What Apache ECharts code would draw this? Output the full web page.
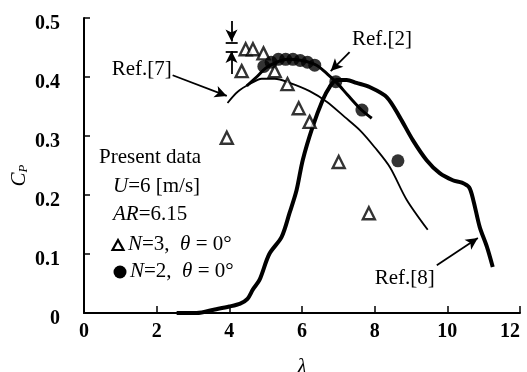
<!DOCTYPE html>
<html><head><meta charset="utf-8">
<script src="https://cdn.jsdelivr.net/npm/echarts@6/dist/echarts.min.js"></script>
<style>html,body{margin:0;padding:0;background:#fff}#c{width:527px;height:372px}</style>
</head><body><div id="c"></div>
<script>
// ---- data ----
const xTickLabels = ['0','2','4','6','8','10','12'];
const yTickLabels = ['0','0.1','0.2','0.3','0.4','0.5'];

// Present data, N=3 (open triangles)
const n3Lambda = [3.93, 4.34, 4.45, 4.65, 4.94, 5.25, 5.60, 5.91, 6.21, 7.01, 7.84];
const n3Cp     = [0.297, 0.410, 0.447, 0.447, 0.440, 0.410, 0.388, 0.347, 0.324, 0.256, 0.169];

// Present data, N=2 (filled circles)
const n2Lambda = [4.95, 5.15, 5.35, 5.55, 5.75, 5.95, 6.15, 6.35, 6.93, 7.65, 8.64];
const n2Cp     = [0.418, 0.425, 0.430, 0.430, 0.430, 0.428, 0.425, 0.420, 0.392, 0.344, 0.258];

// Ref.[7]
const ref7Lambda = [3.95, 4.23, 4.56, 4.89, 5.25, 5.66, 6.21, 6.68, 7.18, 7.59, 8.00, 8.42, 8.88, 9.46];
const ref7Cp     = [0.356, 0.375, 0.388, 0.397, 0.397, 0.390, 0.376, 0.358, 0.332, 0.310, 0.281, 0.247, 0.192, 0.141];

// Ref.[2]
const ref2Lambda = [4.48, 4.75, 5.00, 5.30, 5.60, 6.00, 6.40, 6.70, 6.96, 7.25, 7.64, 7.92];
const ref2Cp     = [0.385, 0.400, 0.415, 0.425, 0.430, 0.428, 0.420, 0.405, 0.390, 0.370, 0.344, 0.330];

// Ref.[8]
const ref8Lambda = [2.55, 3.10, 3.60, 4.00, 4.30, 4.50, 4.65, 4.83, 5.10, 5.44, 5.66, 5.85, 6.02, 6.29, 6.57, 6.76, 6.95, 7.23, 7.50, 7.86, 8.33, 8.69, 9.05, 9.43, 9.79, 10.15, 10.40, 10.60, 10.72, 10.89, 11.09, 11.25];
const ref8Cp     = [0.000, 0.000, 0.006, 0.011, 0.016, 0.024, 0.040, 0.056, 0.100, 0.129, 0.170, 0.208, 0.259, 0.315, 0.361, 0.383, 0.395, 0.395, 0.390, 0.383, 0.366, 0.332, 0.293, 0.259, 0.237, 0.225, 0.221, 0.213, 0.190, 0.146, 0.112, 0.078];

const zip = (a, b) => a.map((v, i) => [v, b[i]]);
const F = 'Liberation Serif, Times New Roman, serif';

const chart = echarts.init(document.getElementById('c'));

const arrowLine = (from, to) => [{coord: from, symbol: 'none'}, {coord: to, symbol: 'arrow', symbolSize: [9, 12]}];
const plainLine = (from, to) => [{coord: from, symbol: 'none'}, {coord: to, symbol: 'none'}];

const annotTxt = (coord, text) => ({coord, value: text, symbol: 'circle', symbolSize: 0,
  label: {show: true, position: 'inside', formatter: text, fontFamily: F, fontSize: 21, color: '#000'}});

const rich = {i: {fontFamily: F, fontStyle: 'italic', fontSize: 21}};

chart.setOption({
  animation: false,
  backgroundColor: '#fff',
  grid: {left: 84, right: 7, top: 18, bottom: 59, outerBoundsMode: 'none', containLabel: false},
  xAxis: {
    type: 'value', min: 0, max: 12, interval: 2,
    name: 'λ', nameLocation: 'middle', nameGap: 44,
    nameTextStyle: {fontFamily: F, fontStyle: 'italic', fontSize: 21, color: '#000'},
    axisLine: {show: true, lineStyle: {color: '#000', width: 2}},
    axisTick: {show: true, inside: true, length: 7, lineStyle: {color: '#000', width: 1.5}},
    axisLabel: {fontFamily: F, fontWeight: 'bold', fontSize: 20, color: '#000', margin: 9,
      alignMaxLabel: 'right',
      formatter: (v) => xTickLabels[Math.round(v / 2)]},
    splitLine: {show: false}
  },
  yAxis: {
    type: 'value', min: 0, max: 0.5, interval: 0.1,
    name: '{c|C}{s|P}', nameLocation: 'middle', nameGap: 54, nameRotate: 90, nameMoveOverlap: false,
    nameTextStyle: {padding: [0, 20, 0, 0], rich: {
      c: {fontFamily: F, fontStyle: 'italic', fontSize: 21, color: '#000'},
      s: {fontFamily: F, fontStyle: 'italic', fontSize: 13, color: '#000', padding: [8, 0, 0, 0]}
    }},
    axisLine: {show: true, lineStyle: {color: '#000', width: 2}},
    axisTick: {show: true, inside: true, length: 6, lineStyle: {color: '#000', width: 1.5}},
    axisLabel: {fontFamily: F, fontWeight: 'bold', fontSize: 20, color: '#000', margin: 24,
      verticalAlign: 'top', lineHeight: 12,
      formatter: (v) => yTickLabels[Math.round(v * 10)]},
    splitLine: {show: false}
  },
  series: [
    {name: 'Ref.[8]', type: 'line', data: zip(ref8Lambda, ref8Cp), smooth: 0.3, showSymbol: false,
      lineStyle: {color: '#000', width: 4}, z: 2},
    {name: 'Ref.[7]', type: 'line', data: zip(ref7Lambda, ref7Cp), smooth: 0.3, showSymbol: false,
      lineStyle: {color: '#000', width: 1.8}, z: 2},
    {name: 'Ref.[2]', type: 'line', data: zip(ref2Lambda, ref2Cp), smooth: 0.3, showSymbol: false,
      lineStyle: {color: '#000', width: 3}, z: 2},
    {name: 'N=3', type: 'scatter', data: zip(n3Lambda, n3Cp), symbol: 'triangle', symbolSize: 12,
      itemStyle: {color: '#fff', borderColor: '#000', borderWidth: 2.4}, z: 4},
    {name: 'N=2', type: 'scatter', data: zip(n2Lambda, n2Cp), symbol: 'circle', symbolSize: 13,
      itemStyle: {color: '#000'}, z: 5},
    {name: 'annot', type: 'line', data: [], silent: true,
      markLine: {silent: true, animation: false, label: {show: false},
        lineStyle: {color: '#000', width: 1.8, type: 'solid'},
        data: [
          arrowLine([2.44, 0.403], [3.93, 0.368]),
          arrowLine([7.31, 0.442], [6.79, 0.410]),
          arrowLine([9.71, 0.081], [10.84, 0.127]),
          arrowLine([4.06, 0.495], [4.06, 0.460]),
          plainLine([3.90, 0.458], [4.23, 0.458]),
          arrowLine([4.06, 0.405], [4.06, 0.444]),
          plainLine([3.90, 0.442], [4.23, 0.442])
        ]},
      markPoint: {silent: true, animation: false,
        data: [
          annotTxt([1.59, 0.413], 'Ref.[7]'),
          annotTxt([8.20, 0.463], 'Ref.[2]'),
          annotTxt([8.83, 0.059], 'Ref.[8]')
        ]}
    }
  ],
  graphic: [
    {type: 'text', left: 99, top: 147, style: {text: 'Present data', font: '21px ' + F, fill: '#000'}},
    {type: 'text', left: 113, top: 176, style: {text: '{i|U}=6 [m/s]', font: '21px ' + F, fill: '#000', rich}},
    {type: 'text', left: 113, top: 204, style: {text: '{i|AR}=6.15', font: '21px ' + F, fill: '#000', rich}},
    {type: 'polygon', shape: {points: [[118, 240], [112.5, 250], [123.5, 250]]},
      style: {fill: '#fff', stroke: '#000', lineWidth: 2.2}},
    {type: 'text', left: 128, top: 234, style: {text: '{i|N}=3,  {i|θ} = 0°', font: '21px ' + F, fill: '#000', rich}},
    {type: 'circle', shape: {cx: 120, cy: 272, r: 6.5}, style: {fill: '#000'}},
    {type: 'text', left: 130, top: 261, style: {text: '{i|N}=2,  {i|θ} = 0°', font: '21px ' + F, fill: '#000', rich}}
  ]
});
</script>
</body></html>
